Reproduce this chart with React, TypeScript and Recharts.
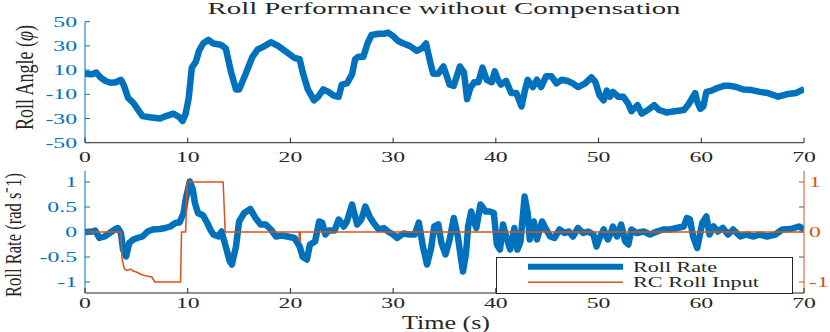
import { Legend, Line, LineChart, XAxis, YAxis } from 'recharts';

// Roll performance test log: roll angle (top) and roll rate vs RC input (bottom).

const BLUE = '#0072BD';
const ORANGE = '#D95319';
const AXIS = '#262626';
const FONT = '"Liberation Serif", "Times New Roman", serif';
const SX = 1.58; // horizontal stretch of the source figure's text

const timeTicks = [0, 10, 20, 30, 40, 50, 60, 70];
const angleTicks = [-50, -30, -10, 10, 30, 50];
const rateTicks = [-1, -0.5, 0, 0.5, 1];
const rcLabelTicks = [-1, 0, 1];
const legendOrder = ['Roll Rate', 'RC Roll Input'];

const angleTime = [
  0, 0.7, 1.1, 1.5, 2.0, 2.5, 3.0, 3.5, 3.8, 4.2, 4.7, 5.1, 5.6, 6.3, 7.3, 7.9, 8.6, 9.2, 9.5, 9.8,
  10.1, 10.4, 10.8, 11.1, 11.5, 12.0, 12.5, 13.2, 13.7, 14.2, 14.7, 15.0, 15.6, 16.3, 16.8, 17.3, 18.1, 18.8, 19.6, 20.4,
  20.9, 21.2, 21.7, 22.3, 22.7, 23.2, 23.7, 24.2, 24.7, 25.0, 25.5, 26.0, 26.3, 26.6, 27.1, 27.5, 27.9, 28.6, 29.1, 29.5,
  30.0, 30.5, 31.0, 31.6, 32.3, 32.8, 33.2, 33.6, 33.9, 34.4, 34.9, 35.5, 35.9, 36.5, 36.9, 37.2, 37.5, 37.9, 38.3, 38.7,
  39.1, 39.6, 39.9, 40.2, 40.5, 41.0, 41.5, 42.0, 42.5, 42.8, 43.1, 43.6, 44.0, 44.4, 44.9, 45.4, 45.9, 46.4, 47.0, 47.5,
  48.0, 48.7, 49.3, 49.7, 50.1, 50.5, 50.8, 51.1, 51.4, 51.9, 52.4, 52.9, 53.2, 53.8, 54.2, 54.8, 55.4, 55.9, 56.6, 57.4,
  58.3, 58.7, 59.2, 59.4, 59.6, 59.9, 60.2, 60.5, 61.0, 61.5, 62.2, 62.8, 63.4, 64.1, 64.9, 65.7, 66.5, 67.5, 68.3, 69.2,
  69.8, 70,
];
const angleDeg = [
  7, 6.5, 8, 4, 1, -0.5, 0, 2, -3, -13, -17, -22, -28, -29, -30, -28, -26, -29, -32, -26,
  -13, 12, 17, 26, 32, 35, 32, 31, 28, 9, -6, -6, 6, 21, 27, 29, 33, 30, 25, 20,
  19, 8, -6, -15, -12, -6, -8, -11, -12, -2, -1, 6.5, 19, 21, 21, 32, 39, 40, 40, 41,
  38, 34, 32, 30, 26, 28, 32, 17, 7, 7, 13, -2, -3, 13, 8, -14, -5, 0, 0, 12,
  2, 0, 9, 2, -2, 1, -9, -9, -20, -8, 2, -4, 2, -4, 5, 5, -1, 2, 1, -1,
  -4, -1, 4, 0, -11, -15, -7, -12, -8, -12, -12, -18, -24, -19, -26, -23, -19, -23, -25, -24,
  -23, -19, -12, -9, -16, -22, -20, -8, -7, -5, -3, -3, -4, -6, -6.5, -8, -9, -12, -10, -9,
  -6.5, -6,
];

const rateTime = [
  0, 0.7, 1.0, 1.4, 1.9, 2.4, 2.9, 3.2, 3.5, 3.7, 4.0, 4.3, 4.7, 5.1, 5.6, 6.1, 6.6, 7.3, 7.8, 8.3,
  8.8, 9.2, 9.6, 9.8, 10.2, 10.5, 10.7, 11.0, 11.5, 11.9, 12.2, 12.5, 13.0, 13.3, 13.7, 14.1, 14.3, 14.7, 15.0, 15.5,
  16.1, 16.6, 17.1, 17.6, 18.1, 18.6, 19.1, 19.7, 20.4, 20.9, 21.2, 21.6, 21.9, 22.4, 22.8, 23.1, 23.4, 23.7, 24.3, 24.7,
  25.2, 25.5, 26.0, 26.5, 26.9, 27.3, 27.7, 28.1, 28.6, 29.1, 29.5, 30.0, 30.4, 31.0, 31.6, 32.1, 32.5, 32.9, 33.3, 33.7,
  34.0, 34.4, 34.7, 35.1, 35.5, 35.9, 36.3, 36.6, 36.8, 37.1, 37.3, 37.6, 37.8, 38.1, 38.5, 39.0, 39.4, 39.8, 40.1, 40.4,
  40.7, 41.0, 41.4, 41.8, 42.1, 42.4, 42.8, 43.1, 43.3, 43.7, 44.0, 44.5, 44.9, 45.3, 45.7, 46.2, 46.7, 47.1, 47.5, 48.0,
  48.5, 49.0, 49.5, 49.8, 50.1, 50.5, 50.9, 51.2, 51.4, 51.8, 52.2, 52.6, 52.9, 53.2, 53.7, 54.4, 55.0, 55.7, 56.3, 57.0,
  57.6, 58.3, 58.6, 58.9, 59.2, 59.6, 59.9, 60.1, 60.5, 60.8, 61.2, 61.6, 62.1, 62.6, 63.1, 63.8, 64.4, 65.1, 65.7, 66.4,
  67.2, 67.9, 68.7, 69.5, 70,
];
const rateVal = [
  0, 0.01, 0.03, -0.12, -0.09, -0.02, 0.05, 0.08, -0.02, -0.35, -0.49, -0.22, -0.15, -0.12, -0.09, 0.01, 0.05, 0.06, 0.08, 0.11,
  0.18, 0.19, 0.38, 0.65, 1.01, 0.85, 0.58, 0.38, 0.33, 0.18, 0.05, -0.05, -0.09, 0.01, -0.29, -0.59, -0.65, -0.29, 0.21, 0.38,
  0.46, 0.28, 0.15, 0.15, 0.05, -0.09, -0.07, -0.09, -0.12, -0.29, -0.5, -0.55, -0.25, -0.19, 0.21, 0.18, -0.05, 0.03, 0.03, 0.25,
  0.11, 0.21, 0.55, 0.15, 0.25, 0.51, 0.31, 0.18, 0.05, 0.08, 0.01, -0.05, -0.12, -0.03, -0.05, -0.05, 0.19, -0.29, -0.65, -0.32,
  0.11, 0.15, -0.22, -0.45, -0.15, 0.28, -0.09, -0.52, -0.79, -0.42, 0.11, 0.41, 0.25, 0.08, 0.55, 0.41, 0.41, 0.38, -0.25, -0.35,
  0.15, -0.09, -0.35, 0.08, -0.35, -0.19, 0.71, 0.38, -0.15, 0.21, -0.15, 0.21, 0.05, -0.09, -0.12, 0.05, -0.02, 0.01, -0.09, 0.08,
  -0.02, 0.01, -0.05, -0.29, -0.12, 0.05, -0.15, -0.02, 0.11, -0.09, 0.15, -0.19, -0.25, 0.05, -0.02, 0.01, -0.05, 0.01, 0.05, 0.05,
  0.08, 0.11, 0.28, 0.25, -0.09, -0.32, -0.02, 0.18, 0.31, -0.05, 0.11, 0.01, 0.08, -0.05, 0.05, -0.09, -0.05, -0.09, -0.05, -0.09,
  -0.05, 0.05, 0.06, 0.11, 0.06,
];

const rcTime = [
  0, 3.5, 3.6, 3.8, 3.9, 4.1, 4.4, 4.7, 5.0, 5.2, 5.6, 6.0, 6.5, 6.8, 9.3, 9.4, 9.8, 9.95, 13.45, 13.65,
  20.85, 20.87, 20.95, 20.97, 70,
];
const rcVal = [
  0, 0, -0.52, -0.72, -0.75, -0.77, -0.74, -0.78, -0.8, -0.82, -0.86, -0.88, -0.9, -1, -1, 0, 0, 1, 1, 0,
  0, -0.19, -0.19, 0, 0,
];

const angleData = angleTime.map((t, i) => ({ t, v: angleDeg[i] }));
const rateData = rateTime.map((t, i) => ({ t, v: rateVal[i] }));
const rcData = rcTime.map((t, i) => ({ t, v: rcVal[i] }));

const stretch = (x: number, y: number) => `translate(${x},${y}) scale(${SX},1)`;

// MATLAB-style ticks: marks point into the plot box
const bottomTick = (dy: number) => (p: any) => (
  <g>
    <line x1={p.x} x2={p.x} y1={p.y} y2={p.y - 5} stroke={AXIS} />
    <text transform={stretch(p.x, p.y + dy)} textAnchor="middle" fontFamily={FONT} fontSize={15} fill={AXIS}>
      {p.payload.value}
    </text>
  </g>
);

const topTick = (p: any) => <line x1={p.x} x2={p.x} y1={p.y} y2={p.y + 5} stroke={AXIS} />;

const leftTick = (p: any) => (
  <g>
    <line x1={p.x} x2={p.x + 5} y1={p.y} y2={p.y} stroke={BLUE} />
    <text transform={stretch(p.x - 8, p.y + 5)} textAnchor="end" fontFamily={FONT} fontSize={15} fill={BLUE}>
      {p.payload.value}
    </text>
  </g>
);

const rightMark = (p: any) => <line x1={p.x} x2={p.x - 5} y1={p.y} y2={p.y} stroke={BLUE} />;

const rcTick = (p: any) => {
  const v = p.payload.value;
  const labelled = rcLabelTicks.includes(v);
  return (
    <g>
      <line x1={p.x} x2={p.x - 5} y1={p.y} y2={p.y} stroke={labelled ? ORANGE : BLUE} />
      {labelled ? (
        <text transform={stretch(p.x + 5, p.y + 5)} textAnchor="start" fontFamily={FONT} fontSize={15} fill={ORANGE}>
          {v}
        </text>
      ) : null}
    </g>
  );
};

const legendTextWidth: Record<string, number> = { 'Roll Rate': 84, 'RC Roll Input': 126 };
const legendLineWidth: Record<string, number> = { 'Roll Rate': 6, 'RC Roll Input': 1.5 };

const LegendBox = (props: any) => {
  const items = [...(props.payload || [])].sort(
    (a: any, b: any) => legendOrder.indexOf(a.value) - legendOrder.indexOf(b.value),
  );
  return (
    <svg width={297} height={37} style={{ display: 'block' }}>
      <rect x={0.5} y={0.5} width={296} height={36} fill="#fff" stroke={AXIS} />
      {items.map((it: any, i: number) => (
        <g key={it.value}>
          <line
            x1={32}
            x2={127}
            y1={9.7 + i * 15.6}
            y2={9.7 + i * 15.6}
            stroke={it.color}
            strokeWidth={legendLineWidth[it.value] ?? 2}
          />
          <text
            x={137}
            y={14.7 + i * 15.6}
            fontFamily={FONT}
            fontSize={13.6}
            fill={AXIS}
            textLength={legendTextWidth[it.value]}
            lengthAdjust="spacingAndGlyphs"
          >
            {it.value}
          </text>
        </g>
      ))}
    </svg>
  );
};

export default function App() {
  return (
    <div style={{ position: 'absolute', left: 0, top: 0, width: 830, height: 332, background: '#fff' }}>
      <div style={{ position: 'absolute', left: 0, top: 0 }}>
        <LineChart width={830} height={170} margin={{ top: 21.7, right: 26, bottom: 2.3, left: 0 }}>
          <XAxis
            xAxisId="b"
            type="number"
            dataKey="t"
            domain={[0, 70]}
            ticks={timeTicks}
            interval={0}
            allowDataOverflow
            height={25}
            tickSize={0}
            tickMargin={0}
            tickLine={false}
            axisLine={{ stroke: AXIS }}
            tick={bottomTick(19)}
          />
          <XAxis
            xAxisId="top"
            orientation="top"
            type="number"
            domain={[0, 70]}
            ticks={timeTicks}
            interval={0}
            allowDataOverflow
            height={0}
            tickSize={0}
            tickMargin={0}
            tickLine={false}
            axisLine={{ stroke: AXIS }}
            tick={topTick}
          />
          <YAxis
            yAxisId="l"
            type="number"
            domain={[-50, 50]}
            ticks={angleTicks}
            interval={0}
            allowDataOverflow
            width={85}
            tickSize={0}
            tickMargin={0}
            tickLine={false}
            axisLine={{ stroke: BLUE }}
            tick={leftTick}
          />
          <YAxis
            yAxisId="r"
            orientation="right"
            type="number"
            domain={[-50, 50]}
            ticks={angleTicks}
            interval={0}
            allowDataOverflow
            width={0}
            tickSize={0}
            tickMargin={0}
            tickLine={false}
            axisLine={{ stroke: BLUE }}
            tick={rightMark}
          />
          <Line
            xAxisId="b"
            yAxisId="l"
            data={angleData}
            dataKey="v"
            type="linear"
            stroke={BLUE}
            strokeWidth={6.5}
            strokeLinejoin="round"
            dot={false}
            isAnimationActive={false}
          />
        </LineChart>
      </div>

      <div style={{ position: 'absolute', left: 0, top: 150 }}>
        <LineChart width={830} height={182} margin={{ top: 21, right: 0, bottom: 14, left: 0 }}>
          <XAxis
            xAxisId="b"
            type="number"
            dataKey="t"
            domain={[0, 70]}
            ticks={timeTicks}
            interval={0}
            allowDataOverflow
            height={25}
            tickSize={0}
            tickMargin={0}
            tickLine={false}
            axisLine={{ stroke: AXIS }}
            tick={bottomTick(15)}
          />
          <XAxis
            xAxisId="top"
            orientation="top"
            type="number"
            domain={[0, 70]}
            ticks={timeTicks}
            interval={0}
            allowDataOverflow
            height={0}
            tickSize={0}
            tickMargin={0}
            tickLine={false}
            axisLine={{ stroke: AXIS }}
            tick={topTick}
          />
          <YAxis
            yAxisId="rate"
            type="number"
            domain={[-1.22, 1.22]}
            ticks={rateTicks}
            interval={0}
            allowDataOverflow
            width={85}
            tickSize={0}
            tickMargin={0}
            tickLine={false}
            axisLine={{ stroke: BLUE }}
            tick={leftTick}
          />
          <YAxis
            yAxisId="rc"
            orientation="right"
            type="number"
            domain={[-1.22, 1.22]}
            ticks={rateTicks}
            interval={0}
            allowDataOverflow
            width={26}
            tickSize={0}
            tickMargin={0}
            tickLine={false}
            axisLine={{ stroke: ORANGE }}
            tick={rcTick}
          />
          <Legend
            layout="vertical"
            align="center"
            verticalAlign="middle"
            content={LegendBox}
            wrapperStyle={{ left: 496, top: 107, width: 297, height: 37 }}
          />
          <Line
            name="Roll Rate"
            xAxisId="b"
            yAxisId="rate"
            data={rateData}
            dataKey="v"
            type="linear"
            stroke={BLUE}
            strokeWidth={6.5}
            strokeLinejoin="round"
            dot={false}
            isAnimationActive={false}
          />
          <Line
            name="RC Roll Input"
            xAxisId="b"
            yAxisId="rc"
            data={rcData}
            dataKey="v"
            type="linear"
            stroke={ORANGE}
            strokeWidth={1.5}
            dot={false}
            isAnimationActive={false}
          />
        </LineChart>
      </div>

      <svg
        width={830}
        height={332}
        style={{ position: 'absolute', left: 0, top: 0, pointerEvents: 'none' }}
      >
        <text x={444} y={13.5} textAnchor="middle" fontFamily={FONT} fontSize={16.5} fill={AXIS} textLength={473} lengthAdjust="spacingAndGlyphs">
          Roll Performance without Compensation
        </text>
        <text transform="translate(33,77.5) rotate(-90) scale(1,1.58)" textAnchor="middle" fontFamily={FONT} fontSize={16} fill={AXIS} textLength={105} lengthAdjust="spacingAndGlyphs">
          Roll Angle (<tspan fontStyle="italic">φ</tspan>)
        </text>
        <text transform="translate(20.5,235) rotate(-90) scale(1,1.58)" textAnchor="middle" fontFamily={FONT} fontSize={15} fill={AXIS} textLength={124} lengthAdjust="spacingAndGlyphs">
          Roll Rate (rad s⁻1)
        </text>
        <text x={446} y={328.5} textAnchor="middle" fontFamily={FONT} fontSize={18} fill={AXIS} textLength={88} lengthAdjust="spacingAndGlyphs">
          Time (s)
        </text>
      </svg>
    </div>
  );
}
